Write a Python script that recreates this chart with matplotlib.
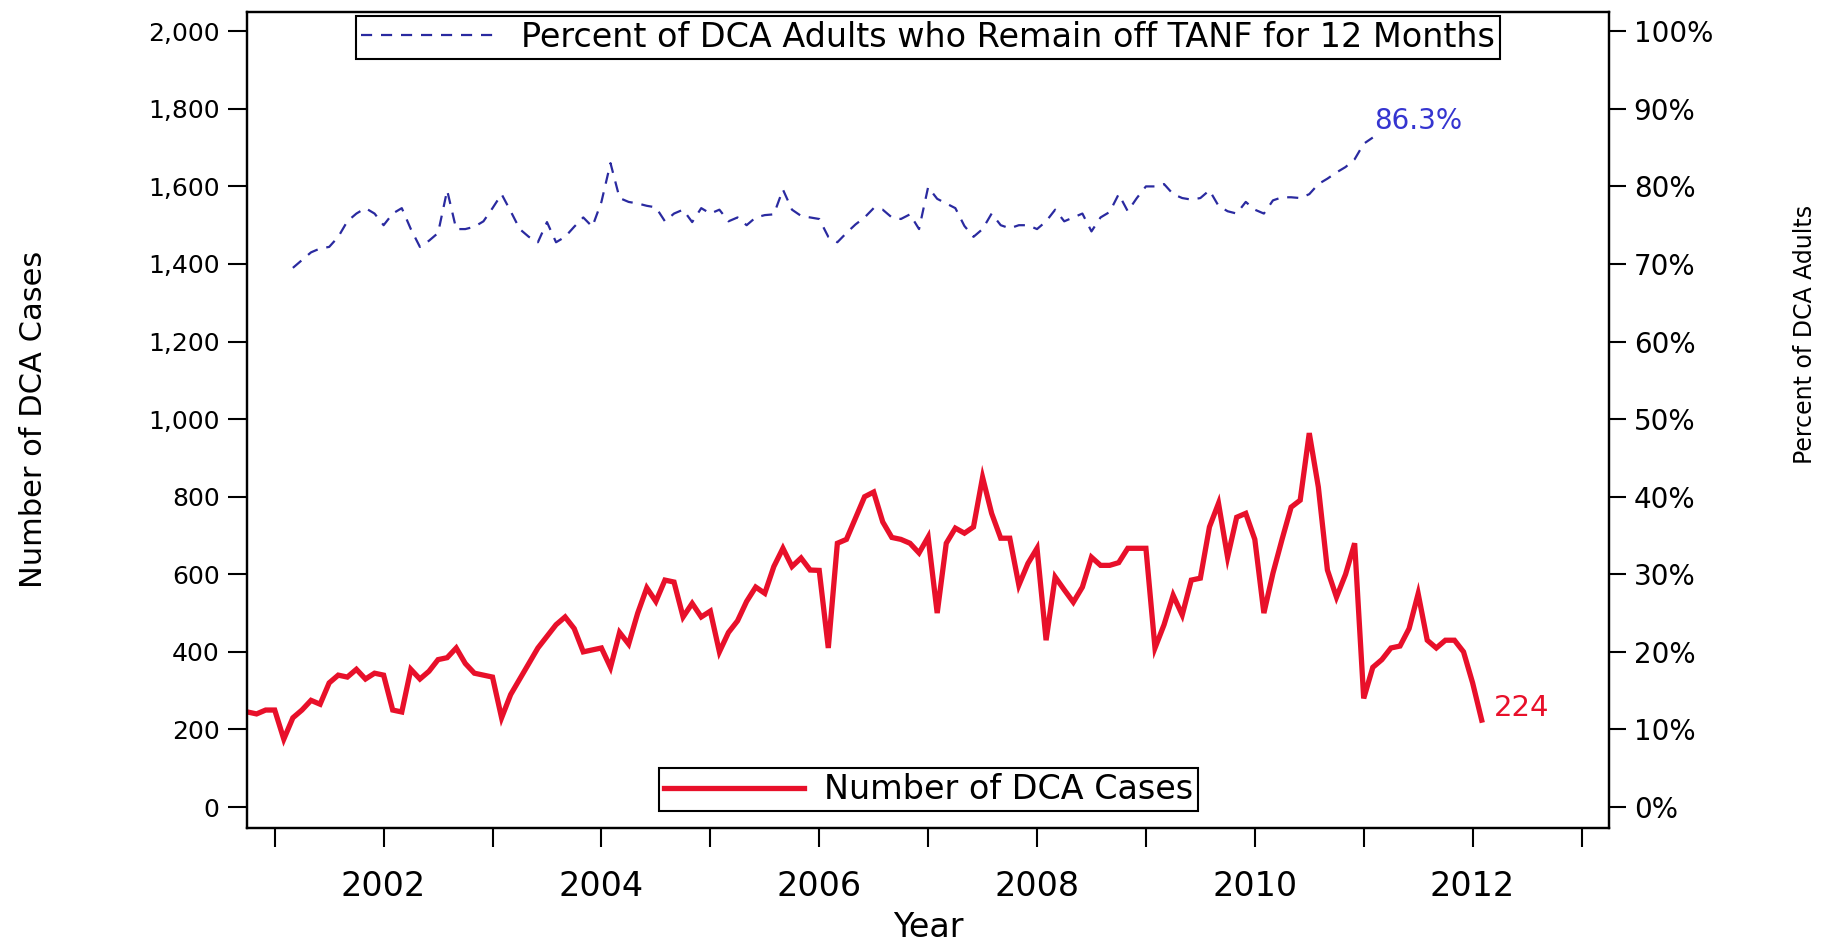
import matplotlib
matplotlib.use("Agg")
import matplotlib.pyplot as plt
import numpy as np

# monthly number of DCA cases, Oct 2000 .. Feb 2012
case_start = (2000, 10)
dca_cases = [
    245, 240, 250,
    250, 175, 230, 250, 275, 265, 320, 340, 335, 355, 330, 345,
    340, 250, 245, 355, 330, 350, 380, 385, 410, 370, 345, 340,
    335, 230, 290, 330, 370, 410, 440, 470, 490, 460, 400, 405,
    410, 360, 450, 420, 500, 565, 530, 585, 580, 490, 525, 490,
    505, 400, 450, 480, 530, 567, 551, 620, 667, 620, 642, 611,
    610, 410, 680, 690, 745, 800, 812, 735, 695, 690, 680, 655,
    696, 500, 680, 719, 706, 722, 850, 757, 693, 693, 572, 628,
    667, 430, 593, 560, 528, 567, 644, 623, 623, 630, 667, 667,
    667, 410, 470, 546, 495, 585, 590, 722, 783, 644, 747, 757,
    690, 500, 603, 690, 773, 791, 964, 825, 611, 541, 600, 680,
    280, 360, 380, 410, 415, 460, 550, 430, 410, 430, 430, 400,
    320, 224,
]

# percent of DCA adults who remain off TANF for 12 months, Mar 2001 .. Feb 2011
pct_start = (2001, 3)
pct_off_tanf = [
    69.5, 70.5, 71.5, 72.0, 72.2, 73.5, 75.5, 76.5, 77.2, 76.5,
    75.0, 76.5, 77.2, 74.5, 72.2, 73.0, 74.0, 79.5, 74.5, 74.5, 74.8, 75.5,
    77.2, 79.0, 76.8, 74.5, 73.5, 72.8, 75.4, 72.8, 73.5, 74.8, 76.0, 74.8,
    78.0, 83.0, 78.5, 78.0, 77.8, 77.5, 77.3, 75.5, 76.5, 77.0, 75.4, 77.2,
    76.5, 77.0, 75.5, 76.0, 75.0, 76.0, 76.3, 76.4, 79.6, 77.0, 76.2, 76.0,
    75.8, 73.5, 72.8, 74.0, 75.1, 76.0, 77.2, 77.0, 76.0, 75.8, 76.4, 74.5,
    79.9, 78.4, 77.8, 77.2, 74.9, 73.5, 74.5, 76.5, 75.0, 74.6, 75.0, 75.0,
    74.5, 75.5, 77.0, 75.5, 76.0, 76.5, 74.2, 76.0, 76.7, 79.0, 76.8, 78.5,
    80.0, 80.0, 80.3, 79.0, 78.5, 78.3, 78.5, 79.5, 77.5, 76.8, 76.5, 78.0,
    77.0, 76.5, 78.2, 78.6, 78.6, 78.5, 79.0, 80.3, 81.0, 81.8, 82.5, 83.5,
    85.5, 86.3,
]

year_ticks = list(range(2001, 2014))
left_ticks = list(range(0, 2001, 200))
right_ticks = list(range(0, 101, 10))


def month_axis(start, n):
    y, m = start
    return y + (m - 1) / 12.0 + np.arange(n) / 12.0


plt.rcParams['font.family'] = ['DejaVu Sans']

fig = plt.figure(figsize=(18.47, 9.43), dpi=100)
ax = fig.add_axes([0.134, 0.122, 0.737, 0.865])
ax2 = ax.twinx()

red = '#e8102a'
blue = '#2a2aa0'

xc = month_axis(case_start, len(dca_cases))
xp = month_axis(pct_start, len(pct_off_tanf))

l1, = ax.plot(xc, dca_cases, color=red, lw=3.8, solid_joinstyle='miter',
              label='Number of DCA Cases')
l2, = ax2.plot(xp, pct_off_tanf, color=blue, lw=1.6, ls=(0, (5, 4)),
               label='Percent of DCA Adults who Remain off TANF for 12 Months')

ax.set_xlim(2000.75, 2013.25)
ax.set_ylim(-54, 2049)
ax2.set_ylim(-2.7, 102.45)

ax.set_xticks(year_ticks)
ax.set_xticklabels([str(y) if y % 2 == 0 else '' for y in year_ticks])
ax.set_yticks(left_ticks)
ax.set_yticklabels([f'{v:,}' for v in left_ticks])
ax2.set_yticks(right_ticks)
ax2.set_yticklabels([f'{v}%' for v in right_ticks])

ax.tick_params(axis='x', length=14, width=1.5, labelsize=24, pad=16)
ax.tick_params(axis='y', length=14, width=1.5, labelsize=18, pad=6)
ax2.tick_params(axis='y', length=12, width=1.5, labelsize=20, pad=6)

for a in (ax, ax2):
    for s in a.spines.values():
        s.set_linewidth(1.6)

ax.set_xlabel('Year', fontsize=24, labelpad=6)
fig.text(0.018, 0.555, 'Number of DCA Cases', rotation=90, fontsize=22,
         ha='center', va='center')
fig.text(0.977, 0.645, 'Percent of DCA Adults', rotation=90, fontsize=17,
         ha='center', va='center')

ax.annotate(f'{dca_cases[-1]}', (xc[-1], dca_cases[-1]), xytext=(9, 9),
            textcoords='offset points', color=red, fontsize=21,
            ha='left', va='center')
ax2.annotate(f'{pct_off_tanf[-1]}%', (xp[-1], pct_off_tanf[-1]), xytext=(1, 12),
             textcoords='offset points', color='#3535d0', fontsize=20,
             ha='left', va='center')

leg_kw = dict(frameon=True, fancybox=False, edgecolor='black', framealpha=1,
              handlelength=4.2, borderpad=0.15, handletextpad=0.6, fontsize=24)
lg1 = ax2.legend(handles=[l1], loc='lower center', borderaxespad=0.5, **leg_kw)
lg1.get_frame().set_linewidth(1.5)
ax2.add_artist(lg1)
lg2 = ax2.legend(handles=[l2], loc='upper center', borderaxespad=0.1, **leg_kw)
lg2.get_frame().set_linewidth(1.5)

fig.savefig('out.png', dpi=100)
